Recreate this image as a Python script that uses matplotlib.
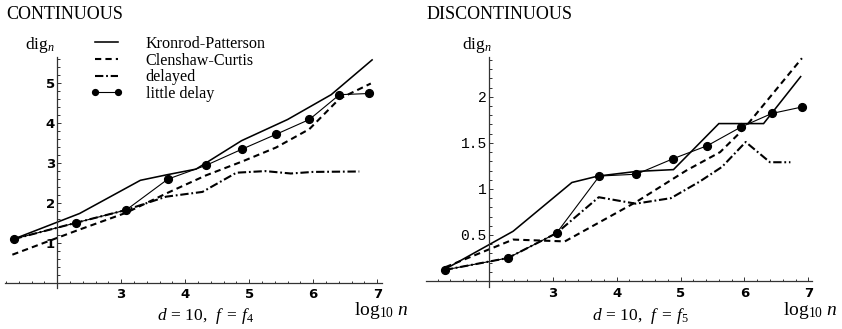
import matplotlib
matplotlib.use("Agg")
import matplotlib.pyplot as plt
from matplotlib.ticker import FixedLocator

plt.rcParams['mathtext.fontset'] = 'custom'
plt.rcParams['mathtext.rm'] = 'Liberation Serif'
plt.rcParams['mathtext.it'] = 'Liberation Serif:italic'
plt.rcParams['lines.scale_dashes'] = False

# ---------------- data (x = log10 n, y = dig_n) ----------------
# CONTINUOUS, d = 10, f = f4
cont_kp_x = [1.32, 2.35, 3.30, 3.72, 4.17, 4.88, 5.60, 6.28, 6.92]
cont_kp_y = [1.09, 1.73, 2.56, 2.70, 2.84, 3.55, 4.08, 4.70, 5.57]
cont_cc_x = [1.30, 2.30, 3.08, 3.73, 4.32, 4.89, 5.42, 5.94, 6.41, 6.90]
cont_cc_y = [0.70, 1.30, 1.75, 2.25, 2.68, 3.03, 3.38, 3.84, 4.60, 4.98]
cont_del_x = [1.32, 2.30, 3.08, 3.70, 4.27, 4.80, 5.25, 5.65, 6.00, 6.72]
cont_del_y = [1.09, 1.50, 1.82, 2.15, 2.27, 2.75, 2.79, 2.73, 2.77, 2.78]
cont_ld_x = [1.32, 2.30, 3.08, 3.73, 4.32, 4.89, 5.42, 5.94, 6.41, 6.87]
cont_ld_y = [1.09, 1.50, 1.82, 2.59, 2.93, 3.34, 3.71, 4.08, 4.70, 4.73]

# DISCONTINUOUS, d = 10, f = f5
disc_kp_x = [1.32, 2.38, 3.30, 3.71, 4.31, 4.89, 5.60, 6.30, 6.88]
disc_kp_y = [0.13, 0.54, 1.07, 1.14, 1.19, 1.21, 1.71, 1.71, 2.22]
disc_cc_x = [1.32, 2.38, 3.19, 4.31, 5.09, 5.62, 6.00, 6.90]
disc_cc_y = [0.15, 0.45, 0.43, 0.86, 1.20, 1.40, 1.66, 2.42]
disc_del_x = [1.31, 2.30, 3.06, 3.72, 4.30, 4.85, 5.30, 5.65, 6.02, 6.40, 6.72]
disc_del_y = [0.12, 0.25, 0.52, 0.91, 0.84, 0.90, 1.08, 1.24, 1.51, 1.29, 1.29]
disc_ld_x = [1.31, 2.30, 3.06, 3.73, 4.31, 4.89, 5.42, 5.94, 6.43, 6.90]
disc_ld_y = [0.12, 0.25, 0.52, 1.14, 1.16, 1.33, 1.47, 1.67, 1.82, 1.89]

series_labels = ["Kronrod-Patterson", "Clenshaw-Curtis", "delayed", "little delay"]
panel_titles = ["CONTINUOUS", "DISCONTINUOUS"]
panel_captions = [r"$d\,=\,10,\ \,f\;=\;f_4$", r"$d\,=\,10,\ \,f\;=\;f_5$"]
x_major = [3, 4, 5, 6, 7]
cont_y_major = [1, 2, 3, 4, 5]
disc_y_major = [0.5, 1, 1.5, 2]
disc_y_labels = ["0.5", "1", "1.5", "2"]

W, H = 842, 329
fig = plt.figure(figsize=(W / 100, H / 100), dpi=100)


def fx(px):
    return px / W


def fy(py):
    return 1 - py / H


SERIF = 'Liberation Serif'


def make_axes(rect, xlim, ylim):
    ax = fig.add_axes(rect)
    ax.set_xlim(*xlim)
    ax.set_ylim(*ylim)
    ax.patch.set_visible(False)
    for s in ['top', 'right']:
        ax.spines[s].set_visible(False)
    ax.spines['left'].set_position(('data', 2))
    ax.spines['bottom'].set_position(('data', 0))
    for s in ['left', 'bottom']:
        ax.spines[s].set_linewidth(0.9)
        ax.spines[s].set_color('#333333')
    ax.tick_params(which='both', direction='in', color='#333333', width=0.7)
    ax.tick_params(which='major', length=3.2)
    ax.tick_params(which='minor', length=1.8)
    ax.tick_params(axis='x', which='major', pad=4.0)
    ax.tick_params(axis='y', which='major', pad=1.5)
    return ax


def draw(ax, kx, ky, cx, cy, dx, dy, lx, ly):
    h1, = ax.plot(kx, ky, color='black', lw=1.15, solid_joinstyle='miter')
    h2, = ax.plot(cx, cy, color='black', lw=1.5, dashes=(4.5, 3.0))
    h3, = ax.plot(dx, dy, color='black', lw=1.5, dashes=(6.0, 2.0, 1.3, 2.0))
    h4, = ax.plot(lx, ly, color='black', lw=0.8, marker='o', markersize=5.6)
    return [h1, h2, h3, h4]


# ---------------- left panel ----------------
axL = make_axes([fx(5), fy(287.9), fx(381.7) - fx(5), fy(57.5) - fy(287.9)],
                (1.185, 7.07), (-0.13, 5.63))
handles = draw(axL, cont_kp_x, cont_kp_y, cont_cc_x, cont_cc_y,
               cont_del_x, cont_del_y, cont_ld_x, cont_ld_y)
axL.xaxis.set_major_locator(FixedLocator(x_major))
axL.xaxis.set_minor_locator(FixedLocator([round(1.2 + 0.2 * i, 1) for i in range(30)
                                          if round(1.2 + 0.2 * i, 1) not in x_major]))
axL.yaxis.set_major_locator(FixedLocator(cont_y_major))
axL.yaxis.set_minor_locator(FixedLocator([round(0.2 * i, 1) for i in range(1, 29)
                                          if round(0.2 * i, 1) not in cont_y_major]))
axL.set_xticklabels([str(v) for v in x_major], family='DejaVu Sans', weight='bold', size=9.5)
axL.set_yticklabels([str(v) for v in cont_y_major], family='DejaVu Sans', weight='bold', size=9.5)

axL.legend(handles, series_labels, loc='upper left',
           bbox_to_anchor=(fx(90), fy(36)), bbox_transform=fig.transFigure,
           frameon=False, borderpad=0, borderaxespad=0, handlelength=2.05,
           handletextpad=1.4, labelspacing=0.04, numpoints=2, markerscale=0.75,
           prop={'family': SERIF, 'size': 11.6})

# ---------------- right panel ----------------
axR = make_axes([fx(426), fy(286.7), fx(811.7) - fx(426), fy(57.3) - fy(286.7)],
                (1.017, 7.053), (-0.062, 2.43))
draw(axR, disc_kp_x, disc_kp_y, disc_cc_x, disc_cc_y,
     disc_del_x, disc_del_y, disc_ld_x, disc_ld_y)
axR.xaxis.set_major_locator(FixedLocator(x_major))
axR.xaxis.set_minor_locator(FixedLocator([round(1.2 + 0.2 * i, 1) for i in range(30)
                                          if round(1.2 + 0.2 * i, 1) not in x_major]))
axR.yaxis.set_major_locator(FixedLocator(disc_y_major))
axR.yaxis.set_minor_locator(FixedLocator([round(0.1 * i, 1) for i in range(1, 25)
                                          if round(0.1 * i, 1) not in disc_y_major]))
axR.set_xticklabels([str(v) for v in x_major], family='DejaVu Sans', weight='bold', size=9.5)
axR.set_yticklabels(disc_y_labels, family='Liberation Mono', size=10.5)

# ---------------- texts ----------------
fig.text(fx(6), fy(19), panel_titles[0], family=SERIF, size=13, va='baseline', ha='left')
fig.text(fx(427), fy(19), panel_titles[1], family=SERIF, size=13, va='baseline', ha='left')
for xx in (25, 461.7):
    fig.text(fx(xx), fy(48.7), r"dig$_n$", family=SERIF, size=12.5, va='baseline', ha='left')
for xx in (354, 782.7):
    fig.text(fx(xx), fy(315), r"$\mathrm{log}_{10}\ n$", size=14, va='baseline', ha='left')
fig.text(fx(156.7), fy(319.5), panel_captions[0], size=12.5, va='baseline', ha='left')
fig.text(fx(591.7), fy(320.5), panel_captions[1], size=12.5, va='baseline', ha='left')

fig.savefig("out.png", dpi=100)
